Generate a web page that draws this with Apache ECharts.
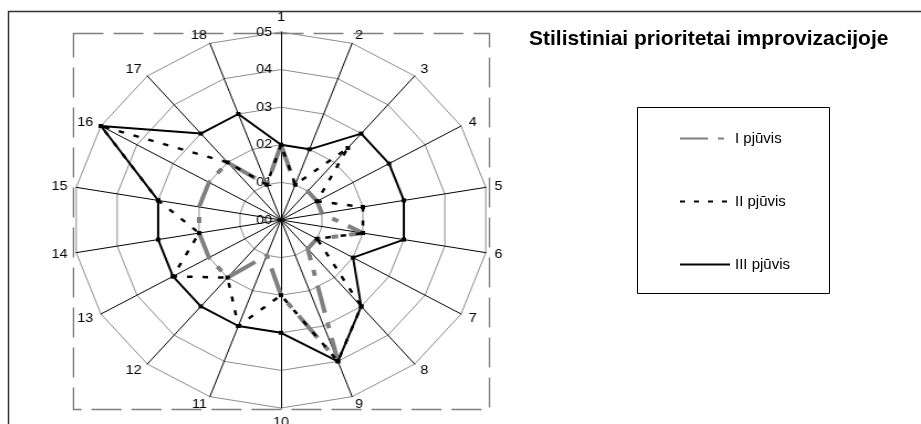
<!DOCTYPE html>
<html><head><meta charset="utf-8">
<script src="https://cdn.jsdelivr.net/npm/echarts@6/dist/echarts.min.js"></script>
<style>
html,body{margin:0;padding:0;background:#fff;}
#wrap{position:relative;width:921px;height:424px;overflow:hidden;background:#fff;}
#main{position:absolute;left:0;top:0;width:921px;height:424px;}
#radar{position:absolute;left:0;top:0;width:562px;height:424px;transform-origin:281px 0;transform:scaleX(1.106);}
</style></head><body>
<div id="wrap"><div id="main"></div><div id="radar"></div></div>
<script>
// ---- data ----
const axisNames = ['1','2','3','4','5','6','7','8','9','10','11','12','13','14','15','16','17','18'];
const radiusLabels = ['00','01','02','03','04','05'];
const seriesNames = ['I pjūvis','II pjūvis','III pjūvis'];
const cut1 = [2,1,1,1,1,2,1,1,4,2,1,2,2,2,2,2,2,1];
const cut2 = [2,1,2.5,1,2,2,1,3,4,2,3,2,3,2,3,5,2,1];
const cut3 = [2,2,3,3,3,3,2,3,4,3,3,3,3,3,3,5,3,3];
const axisMax = 5;
const titleText = 'Stilistiniai prioritetai improvizacijoje';

// ECharts lays radar indicators counter-clockwise; reorder so they run clockwise
const order = [0];
for (let i = axisNames.length - 1; i >= 1; i--) order.push(i);
const reorder = arr => order.map(i => arr[i]);

const FONT = 'Liberation Sans';
const styles = [
  {color:'#808080', width:4, type:[28,10,6,10]},
  {color:'#000000', width:2.5, type:[5,9]},
  {color:'#000000', width:2, type:'solid'}
];
const cuts = [cut1, cut2, cut3];

// ---- radar chart (stretched horizontally like the original elliptical plot) ----
const rc = echarts.init(document.getElementById('radar'), null, {renderer:'canvas'});
rc.setOption({
  animation:false,
  radar:{
    center:[281,220], radius:188, startAngle:90, splitNumber:5, shape:'polygon',
    indicator: order.map((i,k)=>({name:axisNames[i], min:0, max:axisMax, axisLabel:{show:k===0}})),
    axisName:{color:'#000', fontSize:13, fontFamily:FONT},
    nameGap:8,
    axisLine:{lineStyle:{color:'#000', width:1}},
    splitLine:{lineStyle:{color:'#8c8c8c', width:1}},
    splitArea:{show:false},
    axisTick:{show:false},
    axisLabel:{show:false, color:'#000', fontSize:13, fontFamily:FONT, formatter:v=>radiusLabels[Math.round(v)]}
  },
  series:[{
    type:'radar',
    data: cuts.map((c,k)=>({
      name:seriesNames[k], value:reorder(c),
      lineStyle:styles[k],
      symbol: k===0 ? 'none' : 'rect', symbolSize:4,
      itemStyle:{color:'#000'}
    }))
  }]
});

// ---- frame, title and legend ----
const mc = echarts.init(document.getElementById('main'), null, {renderer:'canvas'});
mc.setOption({
  animation:false,
  title:{text:titleText, left:529, top:29, padding:0, textStyle:{fontFamily:FONT, fontSize:21, fontWeight:'bold', color:'#000'}},
  grid:{left:0, top:0, width:1, height:1, show:false},
  xAxis:{show:false, type:'value'}, yAxis:{show:false, type:'value'},
  legend:{
    orient:'vertical', left:679, top:131, padding:0, itemWidth:50, itemHeight:14, itemGap:48,
    textStyle:{fontFamily:FONT, fontSize:15, color:'#000', padding:[0,0,0,0]},
    itemStyle:{opacity:0},
    data:seriesNames
  },
  series: seriesNames.map((n,k)=>({type:'line', name:n, data:[], symbol:'none', lineStyle:styles[k], itemStyle:{color:styles[k].color}})),
  graphic:[
    {type:'rect', shape:{x:8.5, y:11.5, width:1000, height:600}, style:{fill:null, stroke:'#333', lineWidth:1.5}, silent:true},
    {type:'rect', shape:{x:73.5, y:33.5, width:416, height:376}, style:{fill:null, stroke:'#808080', lineWidth:1.5, lineDash:[30,10]}, silent:true},
    {type:'rect', shape:{x:637.5, y:107.5, width:192, height:186}, style:{fill:null, stroke:'#000', lineWidth:1}, silent:true}
  ]
});
</script>
</body></html>
